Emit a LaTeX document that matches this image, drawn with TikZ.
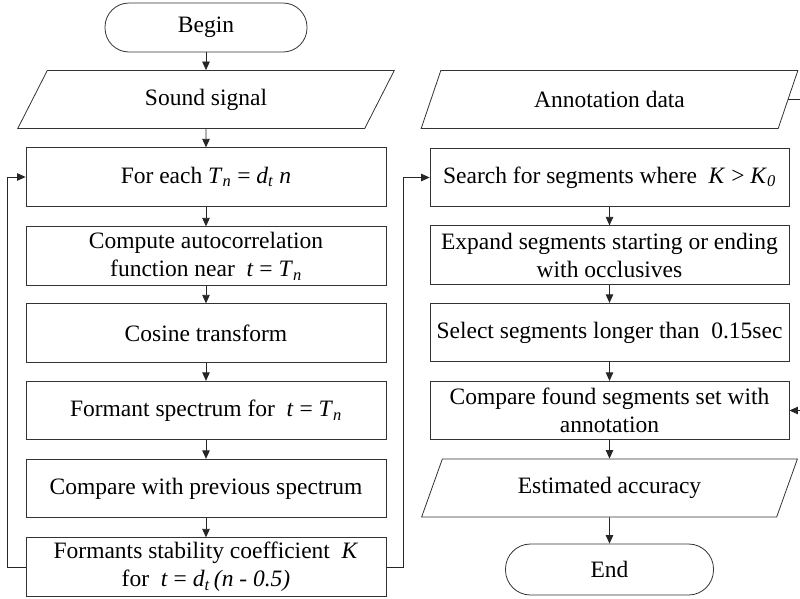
\documentclass[tikz,border=0pt]{standalone}
\usepackage{fontspec}
\setmainfont{Liberation Serif}
\usetikzlibrary{arrows.meta,shapes.geometric}
\newcommand\vi[1]{\textit{#1}}
\newcommand\sbs[1]{\textsubscript{\textit{#1}}}
\begin{document}
\begin{tikzpicture}[x=1pt,y=-1pt,
  every node/.style={font=\fontsize{23.5}{28}\selectfont, text=black, inner sep=0pt},
  box/.style={draw=black!80, line width=0.8pt, rectangle, minimum height=58.5pt, align=center},
  lbox/.style={box, minimum width=360pt},
  rbox/.style={box, minimum width=359pt},
  term/.style={draw=black!80, line width=0.8pt, rectangle, rounded corners=24pt, minimum width=202pt, minimum height=49pt},
  io/.style={draw=black!80, line width=0.8pt, trapezium, trapezium left angle=62, trapezium right angle=118, trapezium stretches=true, minimum width=377pt, minimum height=58pt},
  conn/.style={draw=black!85, line width=0.8pt, -{Triangle[length=8.5pt,width=7.5pt]}},
  line/.style={draw=black!85, line width=0.8pt}
]
\useasboundingbox (0,0) rectangle (800,598);

% left column
\node[term] (begin) at (206,27.5) {Begin};
\node[io] (sound) at (206,99.5) {Sound signal};
\node[lbox] (foreach) at (206,177) {For each \vi{T}\sbs{n} = \vi{d}\sbs{t} \vi{n}};
\node[lbox] (autoc) at (206,256) {Compute autocorrelation\\function near \ \vi{t} = \vi{T}\sbs{n}};
\node[lbox] (cosine) at (206,333) {Cosine transform};
\node[lbox] (formant) at (206,410.5) {Formant spectrum for \ \vi{t} = \vi{T}\sbs{n}};
\node[lbox] (cmpprev) at (206,488.5) {Compare with previous spectrum};
\node[lbox] (coef) at (206,567) {Formants stability coefficient \ \vi{K}\\for \ \vi{t} = \vi{d}\sbs{t}\,\vi{(n - 0.5)}};

% right column
\node[io] (annot) at (609.5,99.5) {Annotation data};
\node[rbox] (search) at (609.5,177.5) {Search for segments where \ \vi{K} > \vi{K}\sbs{0}};
\node[rbox] (expand) at (609.5,255) {Expand segments starting or ending\\with occlusives};
\node[rbox] (select) at (609.5,332.5) {Select segments longer than \ 0.15sec};
\node[rbox] (cmpfound) at (609.5,410.5) {Compare found segments set with\\annotation};
\node[io] (estim) at (609.5,488) {Estimated accuracy};
\node[term, minimum width=208pt, minimum height=51pt, rounded corners=25pt] (end) at (609.5,569.5) {End};

% coordinates for loops
\coordinate (lx) at (7,0);
\coordinate (rx) at (403,0);
\coordinate (ox) at (812,0);

% connectors
\draw[conn] (begin) -- (sound);
\draw[conn] (sound) -- (foreach);
\draw[conn] (foreach) -- (autoc);
\draw[conn] (autoc) -- (cosine);
\draw[conn] (cosine) -- (formant);
\draw[conn] (formant) -- (cmpprev);
\draw[conn] (cmpprev) -- (coef);
\draw[conn] (coef.west) -- (lx |- coef.west) -- (lx |- foreach.west) -- (foreach.west);
\draw[conn] (coef.east) -- (rx |- coef.east) -- (rx |- search.west) -- (search.west);
\draw[conn] (search) -- (expand);
\draw[conn] (expand) -- (select);
\draw[conn] (select) -- (cmpfound);
\draw[conn] (cmpfound) -- (estim);
\draw[conn] (estim) -- (end);
\draw[conn] (annot.east) -- (ox |- annot.east) -- (ox |- cmpfound.east) -- (cmpfound.east);
\end{tikzpicture}
\end{document}
